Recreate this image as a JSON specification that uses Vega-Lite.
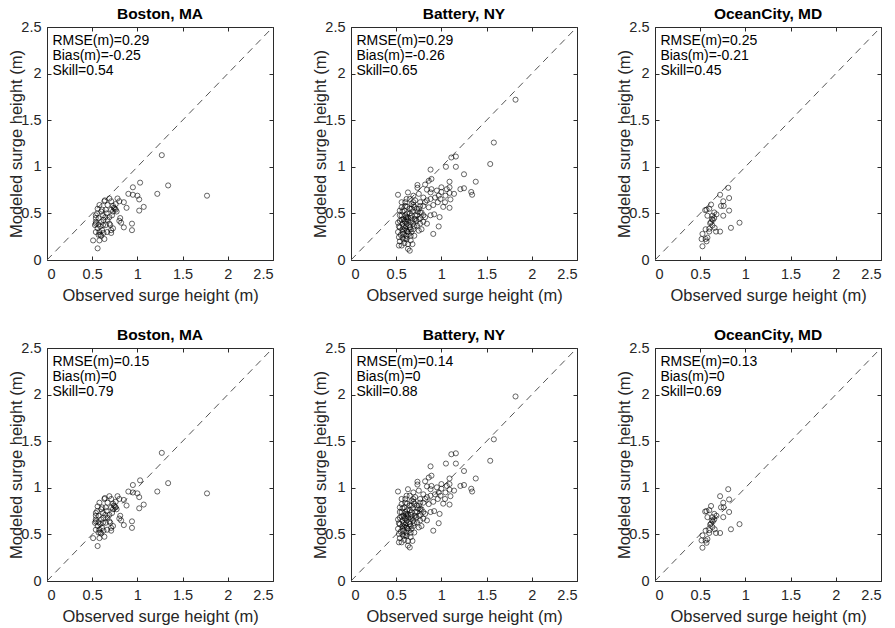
{
  "$schema": "https://vega.github.io/schema/vega-lite/v6.json",
  "padding": {"left": 8, "top": 6, "right": 5, "bottom": 0},
  "background": "white",
  "config": {
    "font": "Liberation Sans",
    "view": {"stroke": "#2b2b2b", "strokeWidth": 1},
    "title": {"font": "Liberation Sans", "fontSize": 15.5, "fontWeight": "bold", "color": "#000000", "offset": -3},
    "axis": {"grid": false, "domain": false, "tickColor": "#2b2b2b", "tickSize": -4, "labelFont": "Liberation Sans", "labelFontSize": 14.5, "labelColor": "#262626", "labelPadding": 10, "titleFont": "Liberation Sans", "titleFontSize": 16.5, "titleFontWeight": "normal", "titleColor": "#262626", "titlePadding": -4},
    "axisX": {"labelPadding": 11, "titlePadding": 7},
    "concat": {"spacing": 30}
  },
  "spacing": {"row": 22, "column": 38},
  "datasets": {
    "diag": [{"a": 0, "b": 2.5}],
    "boston": [
      {"obs": 1.77, "mod": 0.69, "modc": 0.94},
      {"obs": 1.27, "mod": 1.125, "modc": 1.375},
      {"obs": 1.34, "mod": 0.80, "modc": 1.05},
      {"obs": 1.22, "mod": 0.71, "modc": 0.96},
      {"obs": 1.03, "mod": 0.83, "modc": 1.08},
      {"obs": 0.95, "mod": 0.78, "modc": 1.03},
      {"obs": 0.90, "mod": 0.71, "modc": 0.96},
      {"obs": 0.95, "mod": 0.70, "modc": 0.95},
      {"obs": 1.00, "mod": 0.69, "modc": 0.94},
      {"obs": 1.02, "mod": 0.65, "modc": 0.90},
      {"obs": 1.02, "mod": 0.53, "modc": 0.78},
      {"obs": 1.07, "mod": 0.57, "modc": 0.82},
      {"obs": 0.94, "mod": 0.39, "modc": 0.64},
      {"obs": 0.94, "mod": 0.32, "modc": 0.57},
      {"obs": 0.85, "mod": 0.35, "modc": 0.60},
      {"obs": 0.85, "mod": 0.62, "modc": 0.87},
      {"obs": 0.88, "mod": 0.56, "modc": 0.81},
      {"obs": 0.80, "mod": 0.63, "modc": 0.88},
      {"obs": 0.78, "mod": 0.66, "modc": 0.91},
      {"obs": 0.81, "mod": 0.45, "modc": 0.70},
      {"obs": 0.80, "mod": 0.42, "modc": 0.67},
      {"obs": 0.82, "mod": 0.40, "modc": 0.65},
      {"obs": 0.69, "mod": 0.66, "modc": 0.91},
      {"obs": 0.71, "mod": 0.63, "modc": 0.88},
      {"obs": 0.73, "mod": 0.58, "modc": 0.83},
      {"obs": 0.75, "mod": 0.55, "modc": 0.80},
      {"obs": 0.76, "mod": 0.54, "modc": 0.79},
      {"obs": 0.72, "mod": 0.48, "modc": 0.73},
      {"obs": 0.65, "mod": 0.54, "modc": 0.79},
      {"obs": 0.635, "mod": 0.63, "modc": 0.88},
      {"obs": 0.62, "mod": 0.48, "modc": 0.73},
      {"obs": 0.60, "mod": 0.41, "modc": 0.66},
      {"obs": 0.65, "mod": 0.375, "modc": 0.625},
      {"obs": 0.69, "mod": 0.39, "modc": 0.64},
      {"obs": 0.71, "mod": 0.32, "modc": 0.57},
      {"obs": 0.665, "mod": 0.30, "modc": 0.55},
      {"obs": 0.635, "mod": 0.225, "modc": 0.475},
      {"obs": 0.60, "mod": 0.26, "modc": 0.51},
      {"obs": 0.58, "mod": 0.21, "modc": 0.46},
      {"obs": 0.51, "mod": 0.21, "modc": 0.46},
      {"obs": 0.56, "mod": 0.125, "modc": 0.375},
      {"obs": 0.54, "mod": 0.39, "modc": 0.64},
      {"obs": 0.54, "mod": 0.45, "modc": 0.70},
      {"obs": 0.555, "mod": 0.50, "modc": 0.75},
      {"obs": 0.56, "mod": 0.55, "modc": 0.80},
      {"obs": 0.58, "mod": 0.59, "modc": 0.84},
      {"obs": 0.61, "mod": 0.54, "modc": 0.79},
      {"obs": 0.53, "mod": 0.375, "modc": 0.625},
      {"obs": 0.54, "mod": 0.30, "modc": 0.55},
      {"obs": 0.56, "mod": 0.34, "modc": 0.59},
      {"obs": 0.58, "mod": 0.30, "modc": 0.55},
      {"obs": 0.59, "mod": 0.36, "modc": 0.61},
      {"obs": 0.61, "mod": 0.32, "modc": 0.57},
      {"obs": 0.625, "mod": 0.29, "modc": 0.54},
      {"obs": 0.57, "mod": 0.27, "modc": 0.52},
      {"obs": 0.625, "mod": 0.43, "modc": 0.68},
      {"obs": 0.645, "mod": 0.46, "modc": 0.71},
      {"obs": 0.67, "mod": 0.43, "modc": 0.68},
      {"obs": 0.69, "mod": 0.46, "modc": 0.71},
      {"obs": 0.57, "mod": 0.45, "modc": 0.70},
      {"obs": 0.54, "mod": 0.41, "modc": 0.66},
      {"obs": 0.64, "mod": 0.64, "modc": 0.89},
      {"obs": 0.67, "mod": 0.59, "modc": 0.84},
      {"obs": 0.71, "mod": 0.54, "modc": 0.79},
      {"obs": 0.73, "mod": 0.52, "modc": 0.77},
      {"obs": 0.77, "mod": 0.52, "modc": 0.77},
      {"obs": 0.76, "mod": 0.60, "modc": 0.85},
      {"obs": 0.70, "mod": 0.375, "modc": 0.625},
      {"obs": 0.73, "mod": 0.34, "modc": 0.59},
      {"obs": 0.71, "mod": 0.29, "modc": 0.54},
      {"obs": 0.62, "mod": 0.375, "modc": 0.625},
      {"obs": 0.59, "mod": 0.27, "modc": 0.52},
      {"obs": 0.54, "mod": 0.48, "modc": 0.73},
      {"obs": 0.60, "mod": 0.52, "modc": 0.77},
      {"obs": 0.74, "mod": 0.56, "modc": 0.81},
      {"obs": 0.66, "mod": 0.50, "modc": 0.75},
      {"obs": 0.57, "mod": 0.38, "modc": 0.63}
    ],
    "battery": [
      {"obs": 1.82, "mod": 1.72, "modc": 1.98},
      {"obs": 1.58, "mod": 1.26, "modc": 1.52},
      {"obs": 1.54, "mod": 1.03, "modc": 1.29},
      {"obs": 1.38, "mod": 0.84, "modc": 1.10},
      {"obs": 1.33, "mod": 0.73, "modc": 0.99},
      {"obs": 1.34, "mod": 0.70, "modc": 0.96},
      {"obs": 1.25, "mod": 0.92, "modc": 1.18},
      {"obs": 1.25, "mod": 0.77, "modc": 1.03},
      {"obs": 1.21, "mod": 0.76, "modc": 1.02},
      {"obs": 1.16, "mod": 1.11, "modc": 1.37},
      {"obs": 1.11, "mod": 1.10, "modc": 1.36},
      {"obs": 1.16, "mod": 1.00, "modc": 1.26},
      {"obs": 1.05, "mod": 1.00, "modc": 1.26},
      {"obs": 1.09, "mod": 0.84, "modc": 1.10},
      {"obs": 1.09, "mod": 0.78, "modc": 1.04},
      {"obs": 1.09, "mod": 0.72, "modc": 0.98},
      {"obs": 1.10, "mod": 0.65, "modc": 0.91},
      {"obs": 1.09, "mod": 0.56, "modc": 0.82},
      {"obs": 1.04, "mod": 0.62, "modc": 0.88},
      {"obs": 1.02, "mod": 0.57, "modc": 0.83},
      {"obs": 1.00, "mod": 0.73, "modc": 0.99},
      {"obs": 0.99, "mod": 0.655, "modc": 0.915},
      {"obs": 0.96, "mod": 0.62, "modc": 0.88},
      {"obs": 1.00, "mod": 0.78, "modc": 1.04},
      {"obs": 0.95, "mod": 0.745, "modc": 1.005},
      {"obs": 0.89, "mod": 0.76, "modc": 1.02},
      {"obs": 0.88, "mod": 0.97, "modc": 1.23},
      {"obs": 0.89, "mod": 0.87, "modc": 1.13},
      {"obs": 0.86, "mod": 0.85, "modc": 1.11},
      {"obs": 0.84, "mod": 0.755, "modc": 1.015},
      {"obs": 0.82, "mod": 0.81, "modc": 1.07},
      {"obs": 0.84, "mod": 0.64, "modc": 0.90},
      {"obs": 0.92, "mod": 0.49, "modc": 0.75},
      {"obs": 0.98, "mod": 0.46, "modc": 0.72},
      {"obs": 0.97, "mod": 0.36, "modc": 0.62},
      {"obs": 0.91, "mod": 0.28, "modc": 0.54},
      {"obs": 0.88, "mod": 0.48, "modc": 0.74},
      {"obs": 0.82, "mod": 0.46, "modc": 0.72},
      {"obs": 0.80, "mod": 0.41, "modc": 0.67},
      {"obs": 0.765, "mod": 0.51, "modc": 0.77},
      {"obs": 0.73, "mod": 0.55, "modc": 0.81},
      {"obs": 0.765, "mod": 0.62, "modc": 0.88},
      {"obs": 0.80, "mod": 0.67, "modc": 0.93},
      {"obs": 0.75, "mod": 0.71, "modc": 0.97},
      {"obs": 0.735, "mod": 0.805, "modc": 1.065},
      {"obs": 0.735, "mod": 0.775, "modc": 1.035},
      {"obs": 0.69, "mod": 0.62, "modc": 0.88},
      {"obs": 0.67, "mod": 0.55, "modc": 0.81},
      {"obs": 0.69, "mod": 0.69, "modc": 0.95},
      {"obs": 0.65, "mod": 0.655, "modc": 0.915},
      {"obs": 0.615, "mod": 0.655, "modc": 0.915},
      {"obs": 0.63, "mod": 0.725, "modc": 0.985},
      {"obs": 0.52, "mod": 0.70, "modc": 0.96},
      {"obs": 0.56, "mod": 0.565, "modc": 0.825},
      {"obs": 0.59, "mod": 0.53, "modc": 0.79},
      {"obs": 0.54, "mod": 0.48, "modc": 0.74},
      {"obs": 0.58, "mod": 0.44, "modc": 0.70},
      {"obs": 0.52, "mod": 0.40, "modc": 0.66},
      {"obs": 0.54, "mod": 0.35, "modc": 0.61},
      {"obs": 0.57, "mod": 0.30, "modc": 0.56},
      {"obs": 0.53, "mod": 0.245, "modc": 0.505},
      {"obs": 0.54, "mod": 0.20, "modc": 0.46},
      {"obs": 0.53, "mod": 0.155, "modc": 0.415},
      {"obs": 0.58, "mod": 0.22, "modc": 0.48},
      {"obs": 0.615, "mod": 0.225, "modc": 0.485},
      {"obs": 0.63, "mod": 0.12, "modc": 0.38},
      {"obs": 0.65, "mod": 0.10, "modc": 0.36},
      {"obs": 0.68, "mod": 0.17, "modc": 0.43},
      {"obs": 0.70, "mod": 0.26, "modc": 0.52},
      {"obs": 0.67, "mod": 0.30, "modc": 0.56},
      {"obs": 0.65, "mod": 0.35, "modc": 0.61},
      {"obs": 0.615, "mod": 0.39, "modc": 0.65},
      {"obs": 0.60, "mod": 0.34, "modc": 0.60},
      {"obs": 0.63, "mod": 0.425, "modc": 0.685},
      {"obs": 0.67, "mod": 0.48, "modc": 0.74},
      {"obs": 0.71, "mod": 0.44, "modc": 0.70},
      {"obs": 0.73, "mod": 0.37, "modc": 0.63},
      {"obs": 0.69, "mod": 0.33, "modc": 0.59},
      {"obs": 0.75, "mod": 0.315, "modc": 0.575},
      {"obs": 0.78, "mod": 0.33, "modc": 0.59},
      {"obs": 0.84, "mod": 0.39, "modc": 0.65},
      {"obs": 0.60, "mod": 0.48, "modc": 0.74},
      {"obs": 0.56, "mod": 0.62, "modc": 0.88},
      {"obs": 0.60, "mod": 0.62, "modc": 0.88},
      {"obs": 0.65, "mod": 0.55, "modc": 0.81},
      {"obs": 0.62, "mod": 0.50, "modc": 0.76},
      {"obs": 0.57, "mod": 0.39, "modc": 0.65},
      {"obs": 0.56, "mod": 0.48, "modc": 0.74},
      {"obs": 0.615, "mod": 0.26, "modc": 0.52},
      {"obs": 0.59, "mod": 0.18, "modc": 0.44},
      {"obs": 0.66, "mod": 0.21, "modc": 0.47},
      {"obs": 0.71, "mod": 0.48, "modc": 0.74},
      {"obs": 0.75, "mod": 0.55, "modc": 0.81},
      {"obs": 0.78, "mod": 0.51, "modc": 0.77},
      {"obs": 0.80, "mod": 0.58, "modc": 0.84},
      {"obs": 0.86, "mod": 0.565, "modc": 0.825},
      {"obs": 0.91, "mod": 0.59, "modc": 0.85},
      {"obs": 0.88, "mod": 0.655, "modc": 0.915},
      {"obs": 0.93, "mod": 0.67, "modc": 0.93},
      {"obs": 0.69, "mod": 0.59, "modc": 0.85},
      {"obs": 0.71, "mod": 0.64, "modc": 0.90},
      {"obs": 0.54, "mod": 0.42, "modc": 0.68},
      {"obs": 0.52, "mod": 0.30, "modc": 0.56},
      {"obs": 0.57, "mod": 0.33, "modc": 0.59},
      {"obs": 0.615, "mod": 0.44, "modc": 0.70},
      {"obs": 0.66, "mod": 0.405, "modc": 0.665},
      {"obs": 0.63, "mod": 0.30, "modc": 0.56},
      {"obs": 0.69, "mod": 0.39, "modc": 0.65},
      {"obs": 0.58, "mod": 0.28, "modc": 0.54},
      {"obs": 0.75, "mod": 0.44, "modc": 0.70},
      {"obs": 0.73, "mod": 0.48, "modc": 0.74},
      {"obs": 0.67, "mod": 0.60, "modc": 0.86},
      {"obs": 0.60, "mod": 0.58, "modc": 0.84},
      {"obs": 0.54, "mod": 0.53, "modc": 0.79},
      {"obs": 0.765, "mod": 0.39, "modc": 0.65},
      {"obs": 0.80, "mod": 0.48, "modc": 0.74},
      {"obs": 0.63, "mod": 0.17, "modc": 0.43},
      {"obs": 0.56, "mod": 0.155, "modc": 0.415},
      {"obs": 0.60, "mod": 0.41, "modc": 0.67},
      {"obs": 0.65, "mod": 0.50, "modc": 0.76},
      {"obs": 0.765, "mod": 0.58, "modc": 0.84},
      {"obs": 0.82, "mod": 0.62, "modc": 0.88},
      {"obs": 0.88, "mod": 0.725, "modc": 0.985},
      {"obs": 0.97, "mod": 0.69, "modc": 0.95},
      {"obs": 1.045, "mod": 0.69, "modc": 0.95},
      {"obs": 1.14, "mod": 0.71, "modc": 0.97},
      {"obs": 1.06, "mod": 0.76, "modc": 1.02},
      {"obs": 0.58, "mod": 0.36, "modc": 0.62},
      {"obs": 0.62, "mod": 0.31, "modc": 0.57},
      {"obs": 0.64, "mod": 0.37, "modc": 0.63},
      {"obs": 0.59, "mod": 0.42, "modc": 0.68},
      {"obs": 0.66, "mod": 0.45, "modc": 0.71},
      {"obs": 0.68, "mod": 0.52, "modc": 0.78},
      {"obs": 0.61, "mod": 0.46, "modc": 0.72},
      {"obs": 0.55, "mod": 0.27, "modc": 0.53},
      {"obs": 0.60, "mod": 0.23, "modc": 0.49},
      {"obs": 0.64, "mod": 0.28, "modc": 0.54},
      {"obs": 0.70, "mod": 0.36, "modc": 0.62},
      {"obs": 0.72, "mod": 0.42, "modc": 0.68},
      {"obs": 0.62, "mod": 0.57, "modc": 0.83},
      {"obs": 0.57, "mod": 0.52, "modc": 0.78},
      {"obs": 0.53, "mod": 0.36, "modc": 0.62},
      {"obs": 0.66, "mod": 0.33, "modc": 0.59},
      {"obs": 0.74, "mod": 0.52, "modc": 0.78},
      {"obs": 0.70, "mod": 0.57, "modc": 0.83},
      {"obs": 0.77, "mod": 0.45, "modc": 0.71},
      {"obs": 0.63, "mod": 0.46, "modc": 0.72},
      {"obs": 0.59, "mod": 0.32, "modc": 0.58},
      {"obs": 0.56, "mod": 0.43, "modc": 0.69},
      {"obs": 0.68, "mod": 0.42, "modc": 0.68},
      {"obs": 0.61, "mod": 0.36, "modc": 0.62},
      {"obs": 0.66, "mod": 0.26, "modc": 0.52},
      {"obs": 0.57, "mod": 0.24, "modc": 0.50}
    ],
    "ocean": [
      {"obs": 0.81, "mod": 0.775, "modc": 0.985},
      {"obs": 0.72, "mod": 0.70, "modc": 0.91},
      {"obs": 0.82, "mod": 0.665, "modc": 0.875},
      {"obs": 0.755, "mod": 0.63, "modc": 0.84},
      {"obs": 0.73, "mod": 0.58, "modc": 0.79},
      {"obs": 0.76, "mod": 0.58, "modc": 0.79},
      {"obs": 0.82, "mod": 0.53, "modc": 0.74},
      {"obs": 0.755, "mod": 0.475, "modc": 0.685},
      {"obs": 0.62, "mod": 0.595, "modc": 0.805},
      {"obs": 0.60, "mod": 0.55, "modc": 0.76},
      {"obs": 0.57, "mod": 0.54, "modc": 0.75},
      {"obs": 0.555, "mod": 0.535, "modc": 0.745},
      {"obs": 0.655, "mod": 0.51, "modc": 0.72},
      {"obs": 0.635, "mod": 0.475, "modc": 0.685},
      {"obs": 0.68, "mod": 0.49, "modc": 0.70},
      {"obs": 0.58, "mod": 0.475, "modc": 0.685},
      {"obs": 0.655, "mod": 0.45, "modc": 0.66},
      {"obs": 0.63, "mod": 0.44, "modc": 0.65},
      {"obs": 0.61, "mod": 0.395, "modc": 0.605},
      {"obs": 0.635, "mod": 0.37, "modc": 0.58},
      {"obs": 0.66, "mod": 0.345, "modc": 0.555},
      {"obs": 0.675, "mod": 0.305, "modc": 0.515},
      {"obs": 0.72, "mod": 0.305, "modc": 0.515},
      {"obs": 0.60, "mod": 0.305, "modc": 0.515},
      {"obs": 0.56, "mod": 0.33, "modc": 0.54},
      {"obs": 0.525, "mod": 0.28, "modc": 0.49},
      {"obs": 0.515, "mod": 0.225, "modc": 0.435},
      {"obs": 0.56, "mod": 0.225, "modc": 0.435},
      {"obs": 0.58, "mod": 0.24, "modc": 0.45},
      {"obs": 0.57, "mod": 0.20, "modc": 0.41},
      {"obs": 0.525, "mod": 0.147, "modc": 0.357},
      {"obs": 0.84, "mod": 0.345, "modc": 0.555},
      {"obs": 0.935, "mod": 0.40, "modc": 0.61},
      {"obs": 0.62, "mod": 0.405, "modc": 0.615},
      {"obs": 0.60, "mod": 0.335, "modc": 0.545},
      {"obs": 0.64, "mod": 0.43, "modc": 0.64}
    ]
  },
  "columns": 3,
  "concat": [
    {
      "title": "Boston, MA", "width": 226, "height": 233,
      "layer": [
        {"data": {"name": "diag"}, "mark": {"type": "rule", "color": "#555555", "strokeDash": [7, 5], "strokeWidth": 1},
         "encoding": {"x": {"field": "a", "type": "quantitative", "scale": {"domain": [0, 2.5], "nice": false}, "axis": {"orient": "top", "values": [0, 0.5, 1, 1.5, 2, 2.5], "labels": false, "title": null}},
                      "y": {"field": "a", "type": "quantitative", "scale": {"domain": [0, 2.5], "nice": false}, "axis": {"orient": "right", "values": [0, 0.5, 1, 1.5, 2, 2.5], "labels": false, "title": null}},
                      "x2": {"field": "b"}, "y2": {"field": "b"}}},
        {"data": {"name": "boston"}, "mark": {"type": "point", "shape": "circle", "filled": false, "color": "#000000", "size": 26, "strokeWidth": 0.7, "opacity": 0.85},
         "encoding": {"x": {"field": "obs", "type": "quantitative", "scale": {"domain": [0, 2.5], "nice": false}, "axis": {"orient": "bottom", "values": [0, 0.5, 1, 1.5, 2, 2.5], "format": "~g", "title": "Observed surge height (m)"}},
                      "y": {"field": "mod", "type": "quantitative", "scale": {"domain": [0, 2.5], "nice": false}, "axis": {"orient": "left", "values": [0, 0.5, 1, 1.5, 2, 2.5], "format": "~g", "title": "Modeled surge height (m)"}}}},
        {"data": {"values": [{"label": "RMSE(m)=0.29\nBias(m)=-0.25\nSkill=0.54"}]}, "mark": {"type": "text", "lineBreak": "\n", "align": "left", "baseline": "top", "fontSize": 14, "lineHeight": 15, "color": "#000000"},
         "encoding": {"x": {"datum": 0.06, "type": "quantitative", "axis": null}, "y": {"datum": 2.42, "type": "quantitative", "axis": null}, "text": {"field": "label"}}}
      ],
      "resolve": {"axis": {"x": "independent", "y": "independent"}}
    },
    {
      "title": "Battery, NY", "width": 226, "height": 233,
      "layer": [
        {"data": {"name": "diag"}, "mark": {"type": "rule", "color": "#555555", "strokeDash": [7, 5], "strokeWidth": 1},
         "encoding": {"x": {"field": "a", "type": "quantitative", "scale": {"domain": [0, 2.5], "nice": false}, "axis": {"orient": "top", "values": [0, 0.5, 1, 1.5, 2, 2.5], "labels": false, "title": null}},
                      "y": {"field": "a", "type": "quantitative", "scale": {"domain": [0, 2.5], "nice": false}, "axis": {"orient": "right", "values": [0, 0.5, 1, 1.5, 2, 2.5], "labels": false, "title": null}},
                      "x2": {"field": "b"}, "y2": {"field": "b"}}},
        {"data": {"name": "battery"}, "mark": {"type": "point", "shape": "circle", "filled": false, "color": "#000000", "size": 26, "strokeWidth": 0.7, "opacity": 0.85},
         "encoding": {"x": {"field": "obs", "type": "quantitative", "scale": {"domain": [0, 2.5], "nice": false}, "axis": {"orient": "bottom", "values": [0, 0.5, 1, 1.5, 2, 2.5], "format": "~g", "title": "Observed surge height (m)"}},
                      "y": {"field": "mod", "type": "quantitative", "scale": {"domain": [0, 2.5], "nice": false}, "axis": {"orient": "left", "values": [0, 0.5, 1, 1.5, 2, 2.5], "format": "~g", "title": "Modeled surge height (m)"}}}},
        {"data": {"values": [{"label": "RMSE(m)=0.29\nBias(m)=-0.26\nSkill=0.65"}]}, "mark": {"type": "text", "lineBreak": "\n", "align": "left", "baseline": "top", "fontSize": 14, "lineHeight": 15, "color": "#000000"},
         "encoding": {"x": {"datum": 0.06, "type": "quantitative", "axis": null}, "y": {"datum": 2.42, "type": "quantitative", "axis": null}, "text": {"field": "label"}}}
      ],
      "resolve": {"axis": {"x": "independent", "y": "independent"}}
    },
    {
      "title": "OceanCity, MD", "width": 226, "height": 233,
      "layer": [
        {"data": {"name": "diag"}, "mark": {"type": "rule", "color": "#555555", "strokeDash": [7, 5], "strokeWidth": 1},
         "encoding": {"x": {"field": "a", "type": "quantitative", "scale": {"domain": [0, 2.5], "nice": false}, "axis": {"orient": "top", "values": [0, 0.5, 1, 1.5, 2, 2.5], "labels": false, "title": null}},
                      "y": {"field": "a", "type": "quantitative", "scale": {"domain": [0, 2.5], "nice": false}, "axis": {"orient": "right", "values": [0, 0.5, 1, 1.5, 2, 2.5], "labels": false, "title": null}},
                      "x2": {"field": "b"}, "y2": {"field": "b"}}},
        {"data": {"name": "ocean"}, "mark": {"type": "point", "shape": "circle", "filled": false, "color": "#000000", "size": 26, "strokeWidth": 0.7, "opacity": 0.85},
         "encoding": {"x": {"field": "obs", "type": "quantitative", "scale": {"domain": [0, 2.5], "nice": false}, "axis": {"orient": "bottom", "values": [0, 0.5, 1, 1.5, 2, 2.5], "format": "~g", "title": "Observed surge height (m)"}},
                      "y": {"field": "mod", "type": "quantitative", "scale": {"domain": [0, 2.5], "nice": false}, "axis": {"orient": "left", "values": [0, 0.5, 1, 1.5, 2, 2.5], "format": "~g", "title": "Modeled surge height (m)"}}}},
        {"data": {"values": [{"label": "RMSE(m)=0.25\nBias(m)=-0.21\nSkill=0.45"}]}, "mark": {"type": "text", "lineBreak": "\n", "align": "left", "baseline": "top", "fontSize": 14, "lineHeight": 15, "color": "#000000"},
         "encoding": {"x": {"datum": 0.06, "type": "quantitative", "axis": null}, "y": {"datum": 2.42, "type": "quantitative", "axis": null}, "text": {"field": "label"}}}
      ],
      "resolve": {"axis": {"x": "independent", "y": "independent"}}
    },
    {
      "title": "Boston, MA", "width": 226, "height": 233,
      "layer": [
        {"data": {"name": "diag"}, "mark": {"type": "rule", "color": "#555555", "strokeDash": [7, 5], "strokeWidth": 1},
         "encoding": {"x": {"field": "a", "type": "quantitative", "scale": {"domain": [0, 2.5], "nice": false}, "axis": {"orient": "top", "values": [0, 0.5, 1, 1.5, 2, 2.5], "labels": false, "title": null}},
                      "y": {"field": "a", "type": "quantitative", "scale": {"domain": [0, 2.5], "nice": false}, "axis": {"orient": "right", "values": [0, 0.5, 1, 1.5, 2, 2.5], "labels": false, "title": null}},
                      "x2": {"field": "b"}, "y2": {"field": "b"}}},
        {"data": {"name": "boston"}, "mark": {"type": "point", "shape": "circle", "filled": false, "color": "#000000", "size": 26, "strokeWidth": 0.7, "opacity": 0.85},
         "encoding": {"x": {"field": "obs", "type": "quantitative", "scale": {"domain": [0, 2.5], "nice": false}, "axis": {"orient": "bottom", "values": [0, 0.5, 1, 1.5, 2, 2.5], "format": "~g", "title": "Observed surge height (m)"}},
                      "y": {"field": "modc", "type": "quantitative", "scale": {"domain": [0, 2.5], "nice": false}, "axis": {"orient": "left", "values": [0, 0.5, 1, 1.5, 2, 2.5], "format": "~g", "title": "Modeled surge height (m)"}}}},
        {"data": {"values": [{"label": "RMSE(m)=0.15\nBias(m)=0\nSkill=0.79"}]}, "mark": {"type": "text", "lineBreak": "\n", "align": "left", "baseline": "top", "fontSize": 14, "lineHeight": 15, "color": "#000000"},
         "encoding": {"x": {"datum": 0.06, "type": "quantitative", "axis": null}, "y": {"datum": 2.42, "type": "quantitative", "axis": null}, "text": {"field": "label"}}}
      ],
      "resolve": {"axis": {"x": "independent", "y": "independent"}}
    },
    {
      "title": "Battery, NY", "width": 226, "height": 233,
      "layer": [
        {"data": {"name": "diag"}, "mark": {"type": "rule", "color": "#555555", "strokeDash": [7, 5], "strokeWidth": 1},
         "encoding": {"x": {"field": "a", "type": "quantitative", "scale": {"domain": [0, 2.5], "nice": false}, "axis": {"orient": "top", "values": [0, 0.5, 1, 1.5, 2, 2.5], "labels": false, "title": null}},
                      "y": {"field": "a", "type": "quantitative", "scale": {"domain": [0, 2.5], "nice": false}, "axis": {"orient": "right", "values": [0, 0.5, 1, 1.5, 2, 2.5], "labels": false, "title": null}},
                      "x2": {"field": "b"}, "y2": {"field": "b"}}},
        {"data": {"name": "battery"}, "mark": {"type": "point", "shape": "circle", "filled": false, "color": "#000000", "size": 26, "strokeWidth": 0.7, "opacity": 0.85},
         "encoding": {"x": {"field": "obs", "type": "quantitative", "scale": {"domain": [0, 2.5], "nice": false}, "axis": {"orient": "bottom", "values": [0, 0.5, 1, 1.5, 2, 2.5], "format": "~g", "title": "Observed surge height (m)"}},
                      "y": {"field": "modc", "type": "quantitative", "scale": {"domain": [0, 2.5], "nice": false}, "axis": {"orient": "left", "values": [0, 0.5, 1, 1.5, 2, 2.5], "format": "~g", "title": "Modeled surge height (m)"}}}},
        {"data": {"values": [{"label": "RMSE(m)=0.14\nBias(m)=0\nSkill=0.88"}]}, "mark": {"type": "text", "lineBreak": "\n", "align": "left", "baseline": "top", "fontSize": 14, "lineHeight": 15, "color": "#000000"},
         "encoding": {"x": {"datum": 0.06, "type": "quantitative", "axis": null}, "y": {"datum": 2.42, "type": "quantitative", "axis": null}, "text": {"field": "label"}}}
      ],
      "resolve": {"axis": {"x": "independent", "y": "independent"}}
    },
    {
      "title": "OceanCity, MD", "width": 226, "height": 233,
      "layer": [
        {"data": {"name": "diag"}, "mark": {"type": "rule", "color": "#555555", "strokeDash": [7, 5], "strokeWidth": 1},
         "encoding": {"x": {"field": "a", "type": "quantitative", "scale": {"domain": [0, 2.5], "nice": false}, "axis": {"orient": "top", "values": [0, 0.5, 1, 1.5, 2, 2.5], "labels": false, "title": null}},
                      "y": {"field": "a", "type": "quantitative", "scale": {"domain": [0, 2.5], "nice": false}, "axis": {"orient": "right", "values": [0, 0.5, 1, 1.5, 2, 2.5], "labels": false, "title": null}},
                      "x2": {"field": "b"}, "y2": {"field": "b"}}},
        {"data": {"name": "ocean"}, "mark": {"type": "point", "shape": "circle", "filled": false, "color": "#000000", "size": 26, "strokeWidth": 0.7, "opacity": 0.85},
         "encoding": {"x": {"field": "obs", "type": "quantitative", "scale": {"domain": [0, 2.5], "nice": false}, "axis": {"orient": "bottom", "values": [0, 0.5, 1, 1.5, 2, 2.5], "format": "~g", "title": "Observed surge height (m)"}},
                      "y": {"field": "modc", "type": "quantitative", "scale": {"domain": [0, 2.5], "nice": false}, "axis": {"orient": "left", "values": [0, 0.5, 1, 1.5, 2, 2.5], "format": "~g", "title": "Modeled surge height (m)"}}}},
        {"data": {"values": [{"label": "RMSE(m)=0.13\nBias(m)=0\nSkill=0.69"}]}, "mark": {"type": "text", "lineBreak": "\n", "align": "left", "baseline": "top", "fontSize": 14, "lineHeight": 15, "color": "#000000"},
         "encoding": {"x": {"datum": 0.06, "type": "quantitative", "axis": null}, "y": {"datum": 2.42, "type": "quantitative", "axis": null}, "text": {"field": "label"}}}
      ],
      "resolve": {"axis": {"x": "independent", "y": "independent"}}
    }
  ]
}
